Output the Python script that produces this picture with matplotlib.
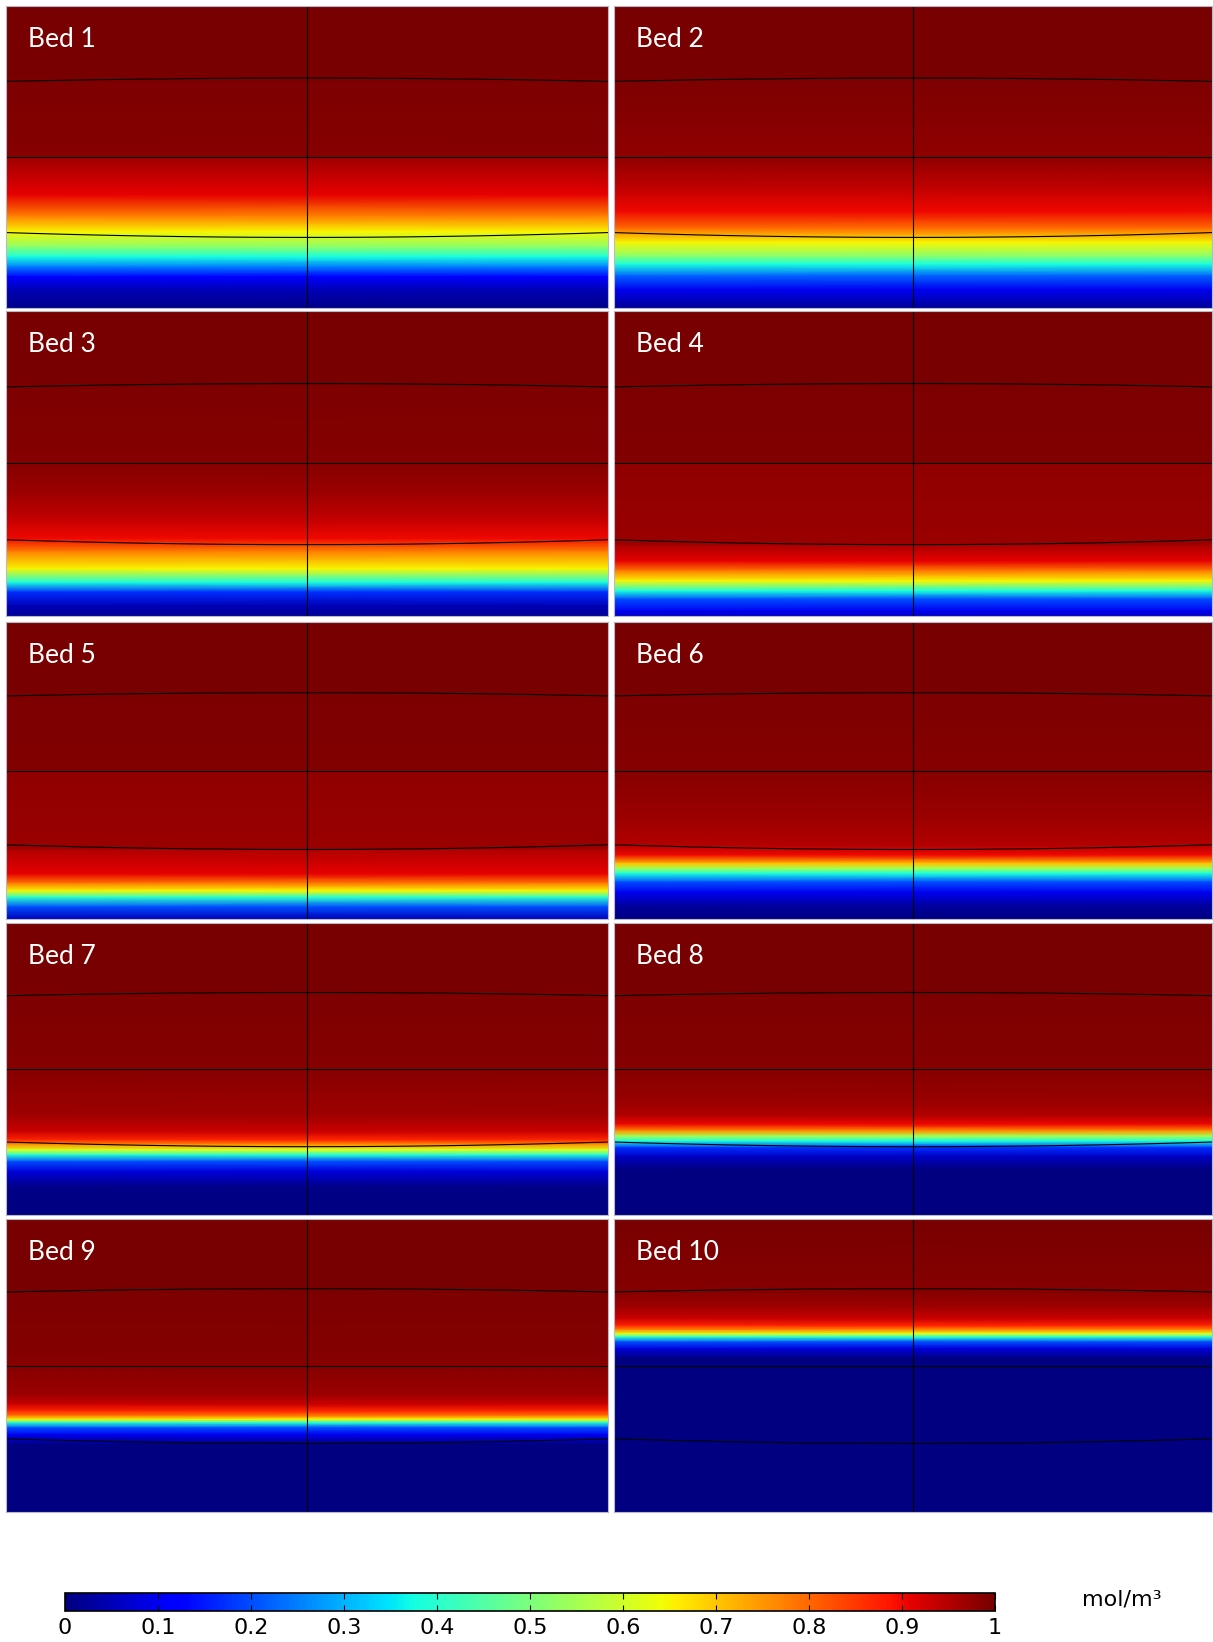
import numpy as np
import matplotlib.pyplot as plt
from matplotlib.colors import LinearSegmentedColormap, Normalize
from matplotlib.cm import ScalarMappable

# bed names
labels = ["Bed 1", "Bed 2", "Bed 3", "Bed 4", "Bed 5",
          "Bed 6", "Bed 7", "Bed 8", "Bed 9", "Bed 10"]

# depth below top of each bed (0 = top, 1 = bottom) and concentration
depth = [
    [0, 0.236, 0.238, 0.5, 0.502, 0.625, 0.695, 0.747, 0.797, 0.83, 0.863, 0.897, 0.94, 1.0],
    [0, 0.24, 0.242, 0.503, 0.603, 0.681, 0.737, 0.782, 0.827, 0.855, 0.894, 0.939, 1.0],
    [0, 0.235, 0.237, 0.5, 0.591, 0.68, 0.746, 0.79, 0.845, 0.89, 0.922, 0.967, 1.0],
    [0, 0.235, 0.237, 0.5, 0.502, 0.765, 0.77, 0.82, 0.852, 0.885, 0.918, 0.945, 0.984, 1.0],
    [0, 0.237, 0.239, 0.5, 0.502, 0.764, 0.769, 0.848, 0.88, 0.905, 0.927, 0.96, 1.0],
    [0, 0.236, 0.238, 0.5, 0.65, 0.751, 0.785, 0.814, 0.83, 0.847, 0.876, 0.91, 0.955, 1.0],
    [0, 0.234, 0.236, 0.5, 0.657, 0.714, 0.743, 0.76, 0.777, 0.794, 0.817, 0.851, 0.903, 1.0],
    [0, 0.236, 0.238, 0.5, 0.615, 0.66, 0.69, 0.713, 0.73, 0.747, 0.77, 0.8, 0.845, 1.0],
    [0, 0.241, 0.243, 0.5, 0.598, 0.632, 0.655, 0.672, 0.684, 0.695, 0.713, 0.736, 0.77, 1.0],
    [0, 0.16, 0.25, 0.295, 0.34, 0.364, 0.38, 0.392, 0.403, 0.42, 0.443, 0.477, 1.0],
]
conc = [
    [1.0, 1.0, 0.995, 0.985, 0.965, 0.91, 0.775, 0.65, 0.52, 0.38, 0.25, 0.12, 0.05, 0.01],
    [1.0, 1.0, 0.995, 0.978, 0.94, 0.9, 0.79, 0.65, 0.52, 0.38, 0.22, 0.1, 0.02],
    [1.0, 1.0, 0.993, 0.985, 0.97, 0.94, 0.9, 0.77, 0.65, 0.38, 0.17, 0.05, 0.02],
    [1.0, 1.0, 0.993, 0.99, 0.978, 0.97, 0.955, 0.91, 0.78, 0.65, 0.38, 0.2, 0.1, 0.06],
    [1.0, 1.0, 0.993, 0.99, 0.978, 0.97, 0.95, 0.91, 0.78, 0.65, 0.4, 0.2, 0.05],
    [1.0, 1.0, 0.993, 0.985, 0.97, 0.95, 0.9, 0.7, 0.55, 0.38, 0.2, 0.1, 0.03, 0.0],
    [1.0, 1.0, 0.993, 0.985, 0.965, 0.93, 0.87, 0.75, 0.62, 0.4, 0.2, 0.08, 0.01, 0.0],
    [1.0, 1.0, 0.993, 0.985, 0.97, 0.95, 0.9, 0.75, 0.55, 0.38, 0.17, 0.06, 0.0, 0.0],
    [1.0, 1.0, 0.993, 0.986, 0.97, 0.93, 0.87, 0.78, 0.65, 0.4, 0.2, 0.1, 0.0, 0.0],
    [1.0, 0.99, 0.985, 0.97, 0.93, 0.87, 0.75, 0.62, 0.4, 0.2, 0.08, 0.0, 0.0],
]
cbar_ticks = [0, 0.1, 0.2, 0.3, 0.4, 0.5, 0.6, 0.7, 0.8, 0.9, 1]
cbar_ticklabels = ["0", "0.1", "0.2", "0.3", "0.4", "0.5", "0.6", "0.7", "0.8", "0.9", "1"]

# jet with a slightly darker top end, like the original rendering
jet = plt.get_cmap("jet")
seg = {k: [list(p) for p in v] for k, v in jet._segmentdata.items()}
seg["red"][-1] = [1.0, 0.47, 0.47]
cmap = LinearSegmentedColormap("bedjet", seg, 256)
norm = Normalize(0, 1)

W, H = 1213, 1642
fig = plt.figure(figsize=(W / 100, H / 100), dpi=100)

# panel boxes in pixels
col_x = [(6.3, 607.6), (613.8, 1212.0)]
row_y = [(6.3, 308), (311, 616), (622, 919), (923, 1215), (1219, 1512)]

xs = np.linspace(0, 1, 60)
for i in range(10):
    r, c = i // 2, i % 2
    x0, x1 = col_x[c]
    y0, y1 = row_y[r]
    ax = fig.add_axes([x0 / W, 1 - y1 / H, (x1 - x0) / W, (y1 - y0) / H])
    t = np.array(depth[i])
    v = np.array(conc[i])
    ax.pcolormesh([0, 1], t, np.column_stack([v, v]), shading="gouraud",
                  cmap=cmap, norm=norm)
    # mesh lines
    ax.plot(xs, 0.238 + 0.011 * (2 * xs - 1) ** 2, color="black", lw=0.8)
    ax.axhline(0.5, color="black", lw=0.8)
    ax.plot(xs, 0.766 - 0.016 * (2 * xs - 1) ** 2, color="black", lw=0.8)
    ax.axvline(0.5, color="black", lw=0.8)
    ax.set_xlim(0, 1)
    ax.set_ylim(1, 0)
    ax.set_xticks([])
    ax.set_yticks([])
    for s in ax.spines.values():
        s.set_color("#b8b8c8")
        s.set_linewidth(0.8)
    ax.text(22 / (x1 - x0), 1 - 41 / (y1 - y0), labels[i], transform=ax.transAxes,
            color="white", fontsize=19, family=["Lato", "DejaVu Sans"],
            ha="left", va="baseline")

# colorbar
cax = fig.add_axes([65 / W, 1 - 1611 / H, 930 / W, 18 / H])
cb = fig.colorbar(ScalarMappable(norm=norm, cmap=cmap), cax=cax, orientation="horizontal",
                  ticks=cbar_ticks)
cb.set_ticklabels(cbar_ticklabels)
cb.outline.set_linewidth(1.2)
cax.tick_params(direction="in", length=4, width=0.8, top=True, bottom=True, pad=5)
for lab in cax.get_xticklabels():
    lab.set_family(["Liberation Sans Narrow", "DejaVu Sans"])
    lab.set_fontsize(16)

fig.text(1082 / W, 1 - 1605 / H, "mol/m\u00b3", fontsize=16,
         family=["Liberation Sans Narrow", "DejaVu Sans"], ha="left", va="baseline")

fig.savefig("out.png", dpi=100)
